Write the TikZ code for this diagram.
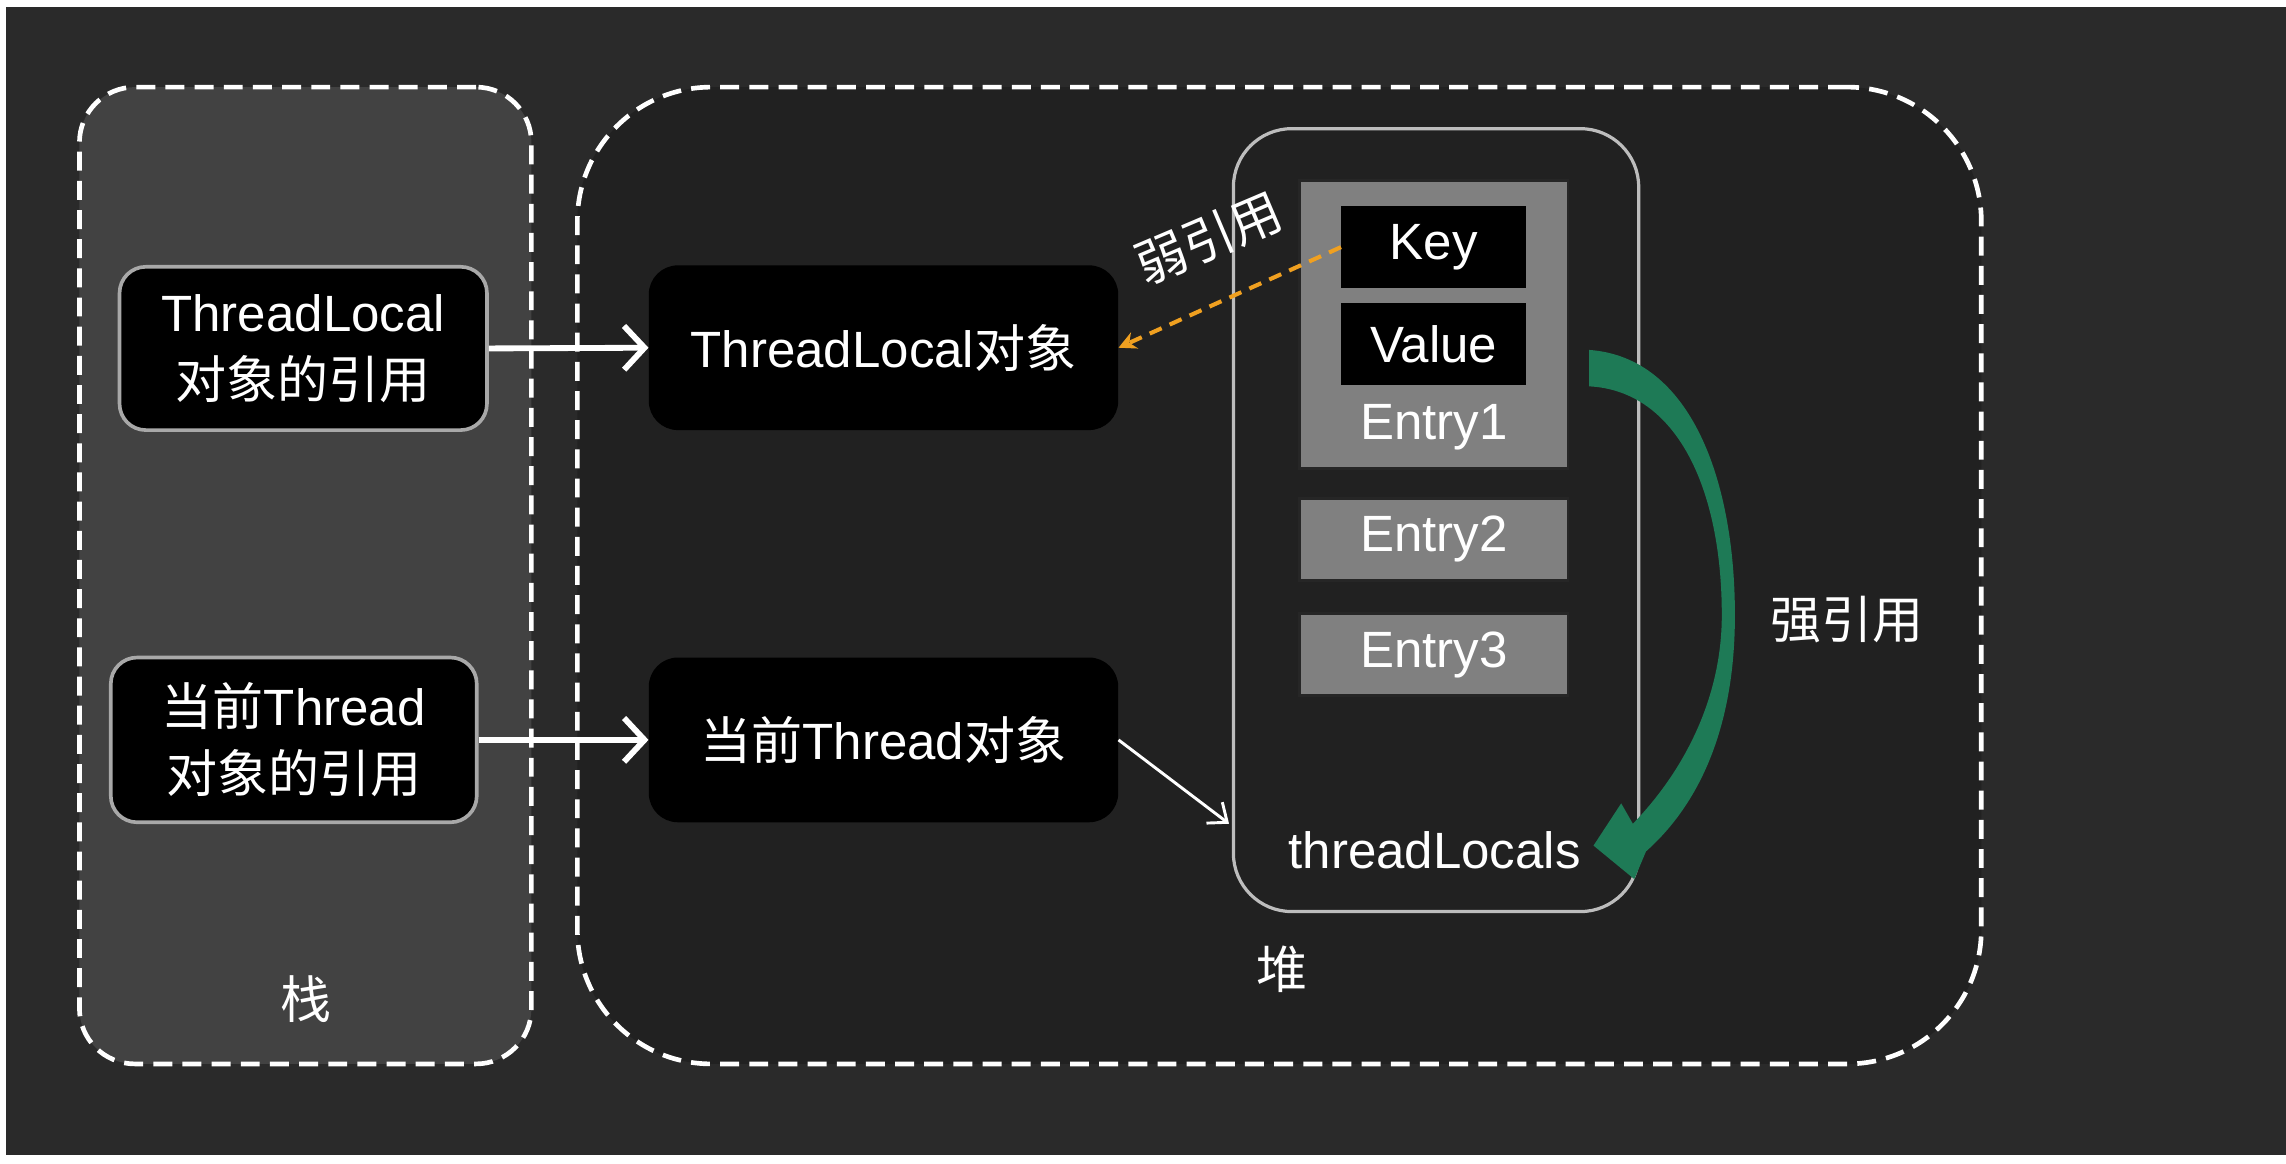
\documentclass[tikz,border=0pt]{standalone}
\usepackage{fontspec}
\setmainfont{Liberation Sans}
\newfontfamily\cjkfont{Noto Sans CJK SC}
\usetikzlibrary{arrows.meta}
\newcommand{\zhtxt}[1]{{\cjkfont #1}}
\definecolor{bgcol}{HTML}{2A2A2A}
\definecolor{stackcol}{HTML}{424242}
\definecolor{heapcol}{HTML}{212121}
\definecolor{entrycol}{HTML}{808080}
\definecolor{contcol}{HTML}{BDBDBD}
\definecolor{refborder}{HTML}{A8A8A8}
\definecolor{weakcol}{HTML}{F0A020}
\definecolor{strongcol}{RGB}{30,122,86}
\tikzset{
  area/.style={draw=white, dash pattern=on 13pt off 7pt, line width=3.2pt, inner sep=0pt},
  refbox/.style={fill=black, draw=refborder, line width=2.5pt, rounded corners=18pt, minimum width=252pt, minimum height=112pt, align=center, inner sep=0pt},
  objbox/.style={fill=black, rounded corners=20pt, minimum width=322pt, minimum height=113pt, inner sep=0pt},
  entrybox/.style={fill=entrycol, draw=black!85, line width=2pt, minimum width=184pt, inner sep=0pt},
  kvbox/.style={fill=black, minimum width=127pt, minimum height=56pt, inner sep=0pt},
  whitearrow/.style={draw=white, line width=4pt, -{Straight Barb[length=14pt,width=30pt,line width=4pt]}},
  thinarrow/.style={draw=white, line width=2pt, -{Straight Barb[length=11pt,width=18pt,line width=2pt]}},
  weakarrow/.style={draw=weakcol, line width=2.8pt, dash pattern=on 9pt off 6pt, -{Stealth[length=12pt,width=12pt]}},
  lbl/.style={inner sep=0pt}
}
\begin{document}
\begin{tikzpicture}[x=1pt,y=-1pt, every node/.style={text=white, font=\fontsize{35}{46}\selectfont}]
\useasboundingbox (0,0) rectangle (1568,798);
\fill[white] (0,0) rectangle (1568,798);
\fill[bgcol] (4,5) rectangle (1568,792);

% containers
\node[area, fill=stackcol, rounded corners=38pt, minimum width=310pt, minimum height=670pt] (stack) at (209.5,394.75) {};
\node[area, fill=heapcol, rounded corners=92pt, minimum width=963pt, minimum height=670pt] (heap) at (877.5,394.75) {};
\node[lbl] (stacklbl) at (210,685) {\zhtxt{栈}};
\node[lbl] (heaplbl) at (879,665) {\zhtxt{堆}};

% stack references
\node[refbox] (tlref) at (208,239) {ThreadLocal\\\zhtxt{对象的引用}};
\node[refbox, minimum width=251pt, minimum height=113pt] (thref) at (201.5,507.5) {\zhtxt{当前}Thread\\\zhtxt{对象的引用}};

% heap objects
\node[objbox] (tlobj) at (606,238.5) {ThreadLocal\zhtxt{对象}};
\node[objbox] (thobj) at (606,507.5) {\zhtxt{当前}Thread\zhtxt{对象}};

% threadLocals map
\node[draw=contcol, line width=2.2pt, rounded corners=40pt, minimum width=278pt, minimum height=537pt, inner sep=0pt] (cont) at (985,356.75) {};
\node[entrybox, minimum height=198pt] (entry1) at (983.5,222.5) {};
\node[kvbox] (key) at (983.5,169.5) {Key};
\node[kvbox] (value) at (983.5,236) {Value};
\node[lbl] (entry1lbl) at (983.5,293) {Entry1};
\node[entrybox, minimum height=56pt] (entry2) at (983.5,370) {Entry2};
\node[entrybox, minimum height=56pt] (entry3) at (983.5,449) {Entry3};
\node[lbl] (tlocals) at (984,583) {threadLocals};

% connectors
\draw[whitearrow] (tlref.east) -- (tlobj.west);
\draw[whitearrow] (thref.east) -- (thobj.west);
\coordinate (tlin) at (843,565);
\draw[thinarrow] (thobj.east) -- (tlin);
\draw[weakarrow] (key.west) -- (tlobj.east);
\node[lbl, rotate=23] (weaklbl) at (829,163) {\zhtxt{弱引用}};

% strong reference curved arrow
\fill[strongcol] (1090,240) .. controls (1160,245) and (1190,330) .. (1190,422)
  .. controls (1190,500) and (1165,552) .. (1129,584) -- (1121,603) -- (1093,580) -- (1112,551) -- (1120,565)
  .. controls (1154,530) and (1181,480) .. (1181,422)
  .. controls (1181,335) and (1150,268) .. (1090,265) -- cycle;
\node[lbl] (stronglbl) at (1267,425) {\zhtxt{强引用}};
\end{tikzpicture}
\end{document}
